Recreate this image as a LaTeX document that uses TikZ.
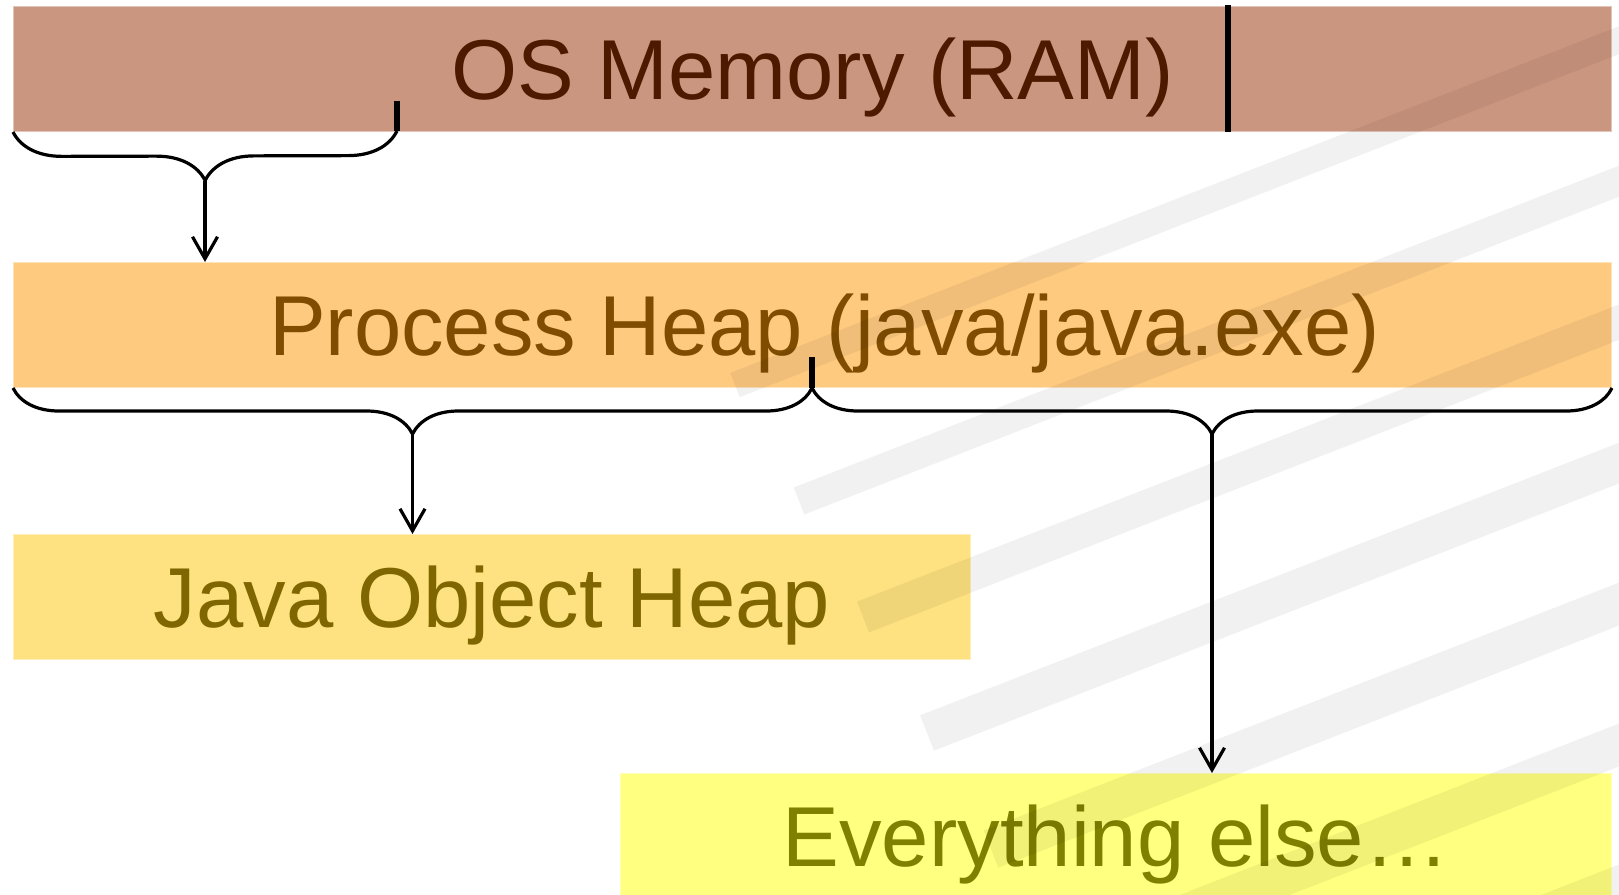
\documentclass[tikz,border=0pt]{standalone}
\usepackage{fontspec}
\setmainfont{Liberation Sans}
\usetikzlibrary{arrows.meta,positioning,calc,decorations.pathreplacing}
\definecolor{osfill}{HTML}{CB9680}
\definecolor{ostext}{HTML}{4D1A00}
\definecolor{procfill}{HTML}{FECA80}
\definecolor{proctext}{HTML}{804C00}
\definecolor{javafill}{HTML}{FEE180}
\definecolor{javatext}{HTML}{806600}
\definecolor{elsefill}{HTML}{FFFF80}
\definecolor{elsetext}{HTML}{808000}

\begin{document}
\begin{tikzpicture}[x=0.1mm, y=-0.1mm,
  membox/.style={rectangle, draw=#1!55!white, fill=#1, line width=0.1mm, anchor=north west, minimum height=12.5mm, inner sep=0pt,
    font=\fontsize{24.2}{29}\selectfont, text height=17.4pt, text depth=0pt},
  curly/.style={decorate, decoration={brace, mirror, amplitude=#1}, line width=0.32mm},
  tickmark/.style={line width=0.55mm},
  arr/.style={-{Straight Barb[length=2.2mm, width=2.5mm]}, line width=0.32mm},
  stripe/.style={line width=#1, black, opacity=0.055}
]
  \useasboundingbox (0,0) rectangle (1619,894);

  % memory regions
  \node[membox=osfill, minimum width=159.8mm, text=ostext] (os) at (13,6) {OS Memory (RAM)};
  \node[membox=procfill, minimum width=159.8mm, text=proctext] (proc) at (13,262) {\hspace*{2.4mm}Process Heap (java/java.exe)};
  \node[membox=javafill, minimum width=95.7mm, text=javatext] (jheap) at (13,534) {Java Object Heap};
  \node[membox=elsefill, minimum width=99.1mm, text=elsetext] (rest) at (620,773) {Everything else…};

  % faint watermark stripes
  \begin{scope}
    \clip (0,0) rectangle (1619,894);
    \foreach \sx/\sy/\sw in {735/385/2.6mm, 799/501/2.9mm, 863/617/3.3mm, 927/733/3.8mm, 991/849/4mm, 1055/965/4mm, 1119/1081/4mm}
      \draw[stripe=\sw] (\sx,\sy) -- ++(1100,-429);
  \end{scope}

  % split points
  \coordinate (osR) at (397,131);
  \coordinate (procM) at (812,388);
  \coordinate (osTip) at ($(os.south west)!0.5!(osR)+(0,49)$);
  \coordinate (jTip) at ($(proc.south west)!0.5!(procM)+(0,46)$);
  \coordinate (rTip) at ($(procM)!0.5!(proc.south east)+(0,46)$);

  \draw[tickmark] (1228,5) -- (1228,132);
  \draw[tickmark] (osR) -- ++(0,-30);
  \draw[tickmark] (procM) -- ++(0,-31);

  \draw[curly=4.9mm] (os.south west) -- (osR);
  \draw[curly=4.6mm] (proc.south west) -- (procM);
  \draw[curly=4.6mm] (procM) -- (proc.south east);

  \draw[arr] (osTip) -- (osTip |- proc.north);
  \draw[arr] (jTip) -- (jTip |- jheap.north);
  \draw[arr] (rTip) -- (rTip |- rest.north);
\end{tikzpicture}
\end{document}
